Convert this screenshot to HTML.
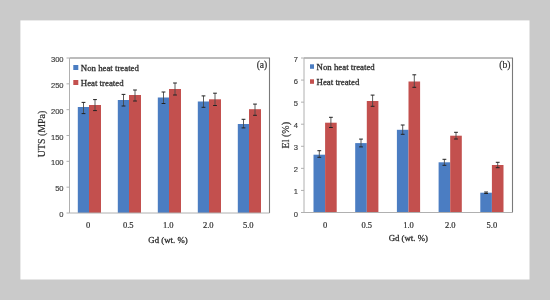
<!DOCTYPE html>
<html><head><meta charset="utf-8"><style>
html,body{margin:0;padding:0;width:550px;height:300px;overflow:hidden;background:#cacaca;}
svg{display:block;filter:blur(0.5px);}
</style></head><body>
<svg width="550" height="300" viewBox="0 0 550 300">
<rect x="0" y="0" width="550" height="300" fill="#cacaca"/>
<rect x="20.4" y="20.4" width="509.1" height="259.1" fill="#ffffff"/>
<rect x="77.8" y="107" width="11.2" height="106" fill="#4b7dc2"/>
<rect x="89" y="105" width="12" height="108" fill="#c3504e"/>
<rect x="117.8" y="100" width="11.2" height="113" fill="#4b7dc2"/>
<rect x="129" y="95" width="12" height="118" fill="#c3504e"/>
<rect x="157.8" y="97.5" width="11.2" height="115.5" fill="#4b7dc2"/>
<rect x="169" y="89" width="12" height="124" fill="#c3504e"/>
<rect x="197.8" y="101.5" width="11.2" height="111.5" fill="#4b7dc2"/>
<rect x="209" y="99.3" width="12" height="113.7" fill="#c3504e"/>
<rect x="237.8" y="124" width="11.2" height="89" fill="#4b7dc2"/>
<rect x="249" y="109.2" width="12" height="103.8" fill="#c3504e"/>
<path d="M83.5 102.4V113.6" stroke="#4a4a4a" stroke-width="0.9" fill="none"/><path d="M81.6 102.4H85.4M81.6 113.6H85.4" stroke="#222" stroke-width="1" fill="none"/>
<path d="M95 99.6V110.6" stroke="#4a4a4a" stroke-width="0.9" fill="none"/><path d="M93.1 99.6H96.9M93.1 110.6H96.9" stroke="#222" stroke-width="1" fill="none"/>
<path d="M123.5 94.4V106" stroke="#4a4a4a" stroke-width="0.9" fill="none"/><path d="M121.6 94.4H125.4M121.6 106H125.4" stroke="#222" stroke-width="1" fill="none"/>
<path d="M135 90V101" stroke="#4a4a4a" stroke-width="0.9" fill="none"/><path d="M133.1 90H136.9M133.1 101H136.9" stroke="#222" stroke-width="1" fill="none"/>
<path d="M163.5 92V103.5" stroke="#4a4a4a" stroke-width="0.9" fill="none"/><path d="M161.6 92H165.4M161.6 103.5H165.4" stroke="#222" stroke-width="1" fill="none"/>
<path d="M175 83V95" stroke="#4a4a4a" stroke-width="0.9" fill="none"/><path d="M173.1 83H176.9M173.1 95H176.9" stroke="#222" stroke-width="1" fill="none"/>
<path d="M203.5 95.9V107.3" stroke="#4a4a4a" stroke-width="0.9" fill="none"/><path d="M201.6 95.9H205.4M201.6 107.3H205.4" stroke="#222" stroke-width="1" fill="none"/>
<path d="M215 93.2V105.5" stroke="#4a4a4a" stroke-width="0.9" fill="none"/><path d="M213.1 93.2H216.9M213.1 105.5H216.9" stroke="#222" stroke-width="1" fill="none"/>
<path d="M243.5 119.3V127.9" stroke="#4a4a4a" stroke-width="0.9" fill="none"/><path d="M241.6 119.3H245.4M241.6 127.9H245.4" stroke="#222" stroke-width="1" fill="none"/>
<path d="M255 104.1V115.3" stroke="#4a4a4a" stroke-width="0.9" fill="none"/><path d="M253.1 104.1H256.9M253.1 115.3H256.9" stroke="#222" stroke-width="1" fill="none"/>
<path d="M69.5 58H269.5V213" fill="none" stroke="#7a7a7a" stroke-width="1.1"/>
<path d="M69.5 58V213H269.5" fill="none" stroke="#b0b0b0" stroke-width="1"/>
<path d="M66.5 213.0H69.5" stroke="#b0b0b0" stroke-width="1"/>
<text x="63.6" y="217.0" text-anchor="end" font-family="Liberation Sans" font-size="7.6" fill="#3a3a3a" stroke="#3a3a3a" stroke-width="0.15">0</text>
<path d="M66.5 187.16666666666666H69.5" stroke="#b0b0b0" stroke-width="1"/>
<text x="63.6" y="191.16666666666666" text-anchor="end" font-family="Liberation Sans" font-size="7.6" fill="#3a3a3a" stroke="#3a3a3a" stroke-width="0.15">50</text>
<path d="M66.5 161.33333333333334H69.5" stroke="#b0b0b0" stroke-width="1"/>
<text x="63.6" y="165.33333333333334" text-anchor="end" font-family="Liberation Sans" font-size="7.6" fill="#3a3a3a" stroke="#3a3a3a" stroke-width="0.15">100</text>
<path d="M66.5 135.5H69.5" stroke="#b0b0b0" stroke-width="1"/>
<text x="63.6" y="139.5" text-anchor="end" font-family="Liberation Sans" font-size="7.6" fill="#3a3a3a" stroke="#3a3a3a" stroke-width="0.15">150</text>
<path d="M66.5 109.66666666666667H69.5" stroke="#b0b0b0" stroke-width="1"/>
<text x="63.6" y="113.66666666666667" text-anchor="end" font-family="Liberation Sans" font-size="7.6" fill="#3a3a3a" stroke="#3a3a3a" stroke-width="0.15">200</text>
<path d="M66.5 83.83333333333334H69.5" stroke="#b0b0b0" stroke-width="1"/>
<text x="63.6" y="87.83333333333334" text-anchor="end" font-family="Liberation Sans" font-size="7.6" fill="#3a3a3a" stroke="#3a3a3a" stroke-width="0.15">250</text>
<path d="M66.5 58.0H69.5" stroke="#b0b0b0" stroke-width="1"/>
<text x="63.6" y="62.0" text-anchor="end" font-family="Liberation Sans" font-size="7.6" fill="#3a3a3a" stroke="#3a3a3a" stroke-width="0.15">300</text>
<text x="88.2" y="227.7" text-anchor="middle" font-family="Liberation Serif" font-size="8.5" fill="#2e2e2e" stroke="#2e2e2e" stroke-width="0.2">0</text>
<text x="128.2" y="227.7" text-anchor="middle" font-family="Liberation Serif" font-size="8.5" fill="#2e2e2e" stroke="#2e2e2e" stroke-width="0.2">0.5</text>
<text x="168.2" y="227.7" text-anchor="middle" font-family="Liberation Serif" font-size="8.5" fill="#2e2e2e" stroke="#2e2e2e" stroke-width="0.2">1.0</text>
<text x="208.2" y="227.7" text-anchor="middle" font-family="Liberation Serif" font-size="8.5" fill="#2e2e2e" stroke="#2e2e2e" stroke-width="0.2">2.0</text>
<text x="248.2" y="227.7" text-anchor="middle" font-family="Liberation Serif" font-size="8.5" fill="#2e2e2e" stroke="#2e2e2e" stroke-width="0.2">5.0</text>
<text x="168" y="243.3" text-anchor="middle" font-family="Liberation Serif" font-size="8.8" fill="#2e2e2e" stroke="#2e2e2e" stroke-width="0.3">Gd (wt. %)</text>
<text transform="translate(44.5 134) rotate(-90)" text-anchor="middle" font-family="Liberation Serif" font-size="9.9" fill="#2e2e2e" stroke="#2e2e2e" stroke-width="0.2">UTS (MPa)</text>
<rect x="73.3" y="65" width="5" height="5" fill="#4b7dc2"/>
<rect x="73.3" y="80" width="5" height="5" fill="#c3504e"/>
<text x="80.8" y="70.8" font-family="Liberation Serif" font-size="8.8" fill="#2e2e2e" stroke="#2e2e2e" stroke-width="0.3">Non heat treated</text>
<text x="80.8" y="85.8" font-family="Liberation Serif" font-size="8.8" fill="#2e2e2e" stroke="#2e2e2e" stroke-width="0.3">Heat treated</text>
<text x="267.3" y="68.2" text-anchor="end" font-family="Liberation Serif" font-size="9.6" fill="#2e2e2e" stroke="#2e2e2e" stroke-width="0.2">(a)</text>
<rect x="313.5" y="154.7" width="11.6" height="57.80000000000001" fill="#4b7dc2"/>
<rect x="325.1" y="122.7" width="11.6" height="89.8" fill="#c3504e"/>
<rect x="355.2" y="143.1" width="11.6" height="69.4" fill="#4b7dc2"/>
<rect x="366.8" y="101" width="11.6" height="111.5" fill="#c3504e"/>
<rect x="396.9" y="129.8" width="11.6" height="82.69999999999999" fill="#4b7dc2"/>
<rect x="408.5" y="81.5" width="11.6" height="131.0" fill="#c3504e"/>
<rect x="438.6" y="162.3" width="11.6" height="50.19999999999999" fill="#4b7dc2"/>
<rect x="450.20000000000005" y="135.7" width="11.6" height="76.80000000000001" fill="#c3504e"/>
<rect x="480.3" y="192.7" width="11.6" height="19.80000000000001" fill="#4b7dc2"/>
<rect x="491.90000000000003" y="165" width="11.6" height="47.5" fill="#c3504e"/>
<path d="M319.3 150.7V157.3" stroke="#4a4a4a" stroke-width="0.9" fill="none"/><path d="M317.40000000000003 150.7H321.2M317.40000000000003 157.3H321.2" stroke="#222" stroke-width="1" fill="none"/>
<path d="M330.90000000000003 117.3V127.5" stroke="#4a4a4a" stroke-width="0.9" fill="none"/><path d="M329.00000000000006 117.3H332.8M329.00000000000006 127.5H332.8" stroke="#222" stroke-width="1" fill="none"/>
<path d="M361.0 139.1V146.9" stroke="#4a4a4a" stroke-width="0.9" fill="none"/><path d="M359.1 139.1H362.9M359.1 146.9H362.9" stroke="#222" stroke-width="1" fill="none"/>
<path d="M372.6 95.1V106.3" stroke="#4a4a4a" stroke-width="0.9" fill="none"/><path d="M370.70000000000005 95.1H374.5M370.70000000000005 106.3H374.5" stroke="#222" stroke-width="1" fill="none"/>
<path d="M402.7 125V134.3" stroke="#4a4a4a" stroke-width="0.9" fill="none"/><path d="M400.8 125H404.59999999999997M400.8 134.3H404.59999999999997" stroke="#222" stroke-width="1" fill="none"/>
<path d="M414.3 74.8V87.3" stroke="#4a4a4a" stroke-width="0.9" fill="none"/><path d="M412.40000000000003 74.8H416.2M412.40000000000003 87.3H416.2" stroke="#222" stroke-width="1" fill="none"/>
<path d="M444.40000000000003 159.3V165.3" stroke="#4a4a4a" stroke-width="0.9" fill="none"/><path d="M442.50000000000006 159.3H446.3M442.50000000000006 165.3H446.3" stroke="#222" stroke-width="1" fill="none"/>
<path d="M456.00000000000006 132.3V139" stroke="#4a4a4a" stroke-width="0.9" fill="none"/><path d="M454.1000000000001 132.3H457.90000000000003M454.1000000000001 139H457.90000000000003" stroke="#222" stroke-width="1" fill="none"/>
<path d="M486.1 192V193.5" stroke="#4a4a4a" stroke-width="0.9" fill="none"/><path d="M484.20000000000005 192H488.0M484.20000000000005 193.5H488.0" stroke="#222" stroke-width="1" fill="none"/>
<path d="M497.70000000000005 162.3V167.7" stroke="#4a4a4a" stroke-width="0.9" fill="none"/><path d="M495.80000000000007 162.3H499.6M495.80000000000007 167.7H499.6" stroke="#222" stroke-width="1" fill="none"/>
<path d="M304 58H512.5V212.5" fill="none" stroke="#7a7a7a" stroke-width="1.1"/>
<path d="M304 58V212.5H512.5" fill="none" stroke="#b0b0b0" stroke-width="1"/>
<path d="M301 212.5H304" stroke="#b0b0b0" stroke-width="1"/>
<text x="298.1" y="216.5" text-anchor="end" font-family="Liberation Sans" font-size="7.6" fill="#3a3a3a" stroke="#3a3a3a" stroke-width="0.15">0</text>
<path d="M301 190.42857142857142H304" stroke="#b0b0b0" stroke-width="1"/>
<text x="298.1" y="194.42857142857142" text-anchor="end" font-family="Liberation Sans" font-size="7.6" fill="#3a3a3a" stroke="#3a3a3a" stroke-width="0.15">1</text>
<path d="M301 168.35714285714286H304" stroke="#b0b0b0" stroke-width="1"/>
<text x="298.1" y="172.35714285714286" text-anchor="end" font-family="Liberation Sans" font-size="7.6" fill="#3a3a3a" stroke="#3a3a3a" stroke-width="0.15">2</text>
<path d="M301 146.28571428571428H304" stroke="#b0b0b0" stroke-width="1"/>
<text x="298.1" y="150.28571428571428" text-anchor="end" font-family="Liberation Sans" font-size="7.6" fill="#3a3a3a" stroke="#3a3a3a" stroke-width="0.15">3</text>
<path d="M301 124.21428571428571H304" stroke="#b0b0b0" stroke-width="1"/>
<text x="298.1" y="128.21428571428572" text-anchor="end" font-family="Liberation Sans" font-size="7.6" fill="#3a3a3a" stroke="#3a3a3a" stroke-width="0.15">4</text>
<path d="M301 102.14285714285714H304" stroke="#b0b0b0" stroke-width="1"/>
<text x="298.1" y="106.14285714285714" text-anchor="end" font-family="Liberation Sans" font-size="7.6" fill="#3a3a3a" stroke="#3a3a3a" stroke-width="0.15">5</text>
<path d="M301 80.07142857142858H304" stroke="#b0b0b0" stroke-width="1"/>
<text x="298.1" y="84.07142857142858" text-anchor="end" font-family="Liberation Sans" font-size="7.6" fill="#3a3a3a" stroke="#3a3a3a" stroke-width="0.15">6</text>
<path d="M301 58.0H304" stroke="#b0b0b0" stroke-width="1"/>
<text x="298.1" y="62.0" text-anchor="end" font-family="Liberation Sans" font-size="7.6" fill="#3a3a3a" stroke="#3a3a3a" stroke-width="0.15">7</text>
<text x="325.1" y="227.7" text-anchor="middle" font-family="Liberation Serif" font-size="8.5" fill="#2e2e2e" stroke="#2e2e2e" stroke-width="0.2">0</text>
<text x="366.8" y="227.7" text-anchor="middle" font-family="Liberation Serif" font-size="8.5" fill="#2e2e2e" stroke="#2e2e2e" stroke-width="0.2">0.5</text>
<text x="408.5" y="227.7" text-anchor="middle" font-family="Liberation Serif" font-size="8.5" fill="#2e2e2e" stroke="#2e2e2e" stroke-width="0.2">1.0</text>
<text x="450.20000000000005" y="227.7" text-anchor="middle" font-family="Liberation Serif" font-size="8.5" fill="#2e2e2e" stroke="#2e2e2e" stroke-width="0.2">2.0</text>
<text x="491.90000000000003" y="227.7" text-anchor="middle" font-family="Liberation Serif" font-size="8.5" fill="#2e2e2e" stroke="#2e2e2e" stroke-width="0.2">5.0</text>
<text x="408.3" y="241" text-anchor="middle" font-family="Liberation Serif" font-size="8.8" fill="#2e2e2e" stroke="#2e2e2e" stroke-width="0.3">Gd (wt. %)</text>
<text transform="translate(288.6 135.2) rotate(-90)" text-anchor="middle" font-family="Liberation Serif" font-size="10" fill="#2e2e2e" stroke="#2e2e2e" stroke-width="0.2">El (%)</text>
<rect x="310" y="64.3" width="4" height="4.5" fill="#4b7dc2"/>
<rect x="310" y="79.3" width="4" height="4.5" fill="#c3504e"/>
<text x="316.6" y="70.3" font-family="Liberation Serif" font-size="8.8" fill="#2e2e2e" stroke="#2e2e2e" stroke-width="0.3">Non heat treated</text>
<text x="316.6" y="85.3" font-family="Liberation Serif" font-size="8.8" fill="#2e2e2e" stroke="#2e2e2e" stroke-width="0.3">Heat treated</text>
<text x="510.5" y="68" text-anchor="end" font-family="Liberation Serif" font-size="9.6" fill="#2e2e2e" stroke="#2e2e2e" stroke-width="0.2">(b)</text>
</svg>
</body></html>
